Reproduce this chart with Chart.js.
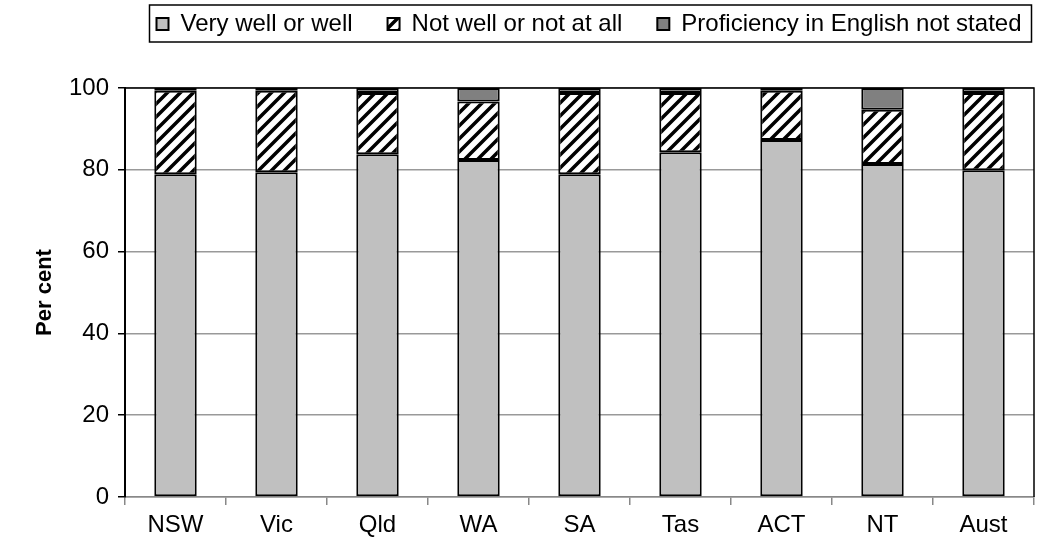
<!DOCTYPE html>
<html>
<head>
<meta charset="utf-8">
<script src="https://cdn.jsdelivr.net/npm/chart.js@4/dist/chart.umd.min.js"></script>
<style>
  html, body { margin: 0; padding: 0; background: #fff; }
  #wrap { width: 1062px; height: 541px; }
</style>
</head>
<body>
<div id="wrap"><canvas id="chart"></canvas></div>
<script>
const states = ['NSW', 'Vic', 'Qld', 'WA', 'SA', 'Tas', 'ACT', 'NT', 'Aust'];
const veryWell = [78.9, 79.4, 83.8, 82.4, 78.9, 84.3, 87.3, 81.4, 79.9];
const notWell = [20.4, 19.9, 15.0, 14.3, 19.9, 14.5, 12.0, 13.3, 18.9];
const notStated = [0.7, 0.7, 1.2, 3.3, 1.2, 1.2, 0.7, 5.3, 1.2];
const yTicks = [0, 20, 40, 60, 80, 100];

// diagonal hatch, black on white
function makeHatch () {
  const s = 13;
  const c = document.createElement('canvas');
  c.width = s; c.height = s;
  const g = c.getContext('2d');
  g.fillStyle = '#fff';
  g.fillRect(0, 0, s, s);
  g.strokeStyle = '#000';
  g.lineWidth = 3.5;
  g.beginPath();
  for (const k of [-s, 0, s]) {
    g.moveTo(k - 2, s + 2);
    g.lineTo(k + s + 2, -2);
  }
  g.stroke();
  return g.createPattern(c, 'repeat');
}

// legend sizing / offset and the frame round it
const legendBox = {
  id: 'legendBox',
  beforeInit (chart) {
    const fit = chart.legend.fit;
    chart.legend.fit = function () {
      fit.bind(chart.legend)();
      this.height = 88;
    };
  },
  afterLayout (chart) {
    const lg = chart.legend;
    lg.top -= 23; lg.bottom -= 23;
    lg.left += 72; lg.right += 72;
  },
  afterDraw (chart) {
    const boxes = chart.legend.legendHitBoxes;
    if (!boxes || !boxes.length) return;
    const ctx = chart.ctx;
    const left = Math.min(...boxes.map(b => b.left)) - 7;
    const right = Math.max(...boxes.map(b => b.left + b.width)) + 10;
    ctx.save();
    ctx.strokeStyle = '#000';
    ctx.lineWidth = 1.5;
    ctx.strokeRect(left, 5, right - left, 37);
    ctx.restore();
  }
};

const plotBorder = {
  id: 'plotBorder',
  afterDatasetsDraw (chart) {
    const a = chart.chartArea;
    const ctx = chart.ctx;
    ctx.save();
    ctx.strokeStyle = '#000';
    ctx.lineWidth = 1.5;
    ctx.beginPath();
    ctx.moveTo(a.left, a.top);
    ctx.lineTo(a.right, a.top);
    ctx.lineTo(a.right, a.bottom);
    ctx.stroke();
    ctx.restore();
  }
};

const hatch = makeHatch();
const family = '"Liberation Sans", Arial, sans-serif';

new Chart(document.getElementById('chart'), {
  type: 'bar',
  data: {
    labels: states,
    datasets: [
      { label: 'Very well or well', data: veryWell, backgroundColor: '#c0c0c0' },
      { label: 'Not well or not at all', data: notWell, backgroundColor: hatch },
      { label: 'Proficiency in English not stated', data: notStated, backgroundColor: '#808080' }
    ]
  },
  options: {
    responsive: true,
    maintainAspectRatio: false,
    animation: false,
    layout: { padding: { top: 0, right: 28, bottom: 0, left: 0 } },
    datasets: {
      bar: {
        borderColor: '#000',
        borderWidth: 2,
        borderSkipped: false,
        barPercentage: 0.42,
        categoryPercentage: 1
      }
    },
    plugins: {
      legend: {
        position: 'top',
        fullSize: true,
        labels: {
          color: '#000',
          font: { family: family, size: 24 },
          boxWidth: 12,
          boxHeight: 12,
          padding: 35
        }
      },
      tooltip: { enabled: false }
    },
    scales: {
      x: {
        stacked: true,
        grid: {
          offset: true,
          drawOnChartArea: false,
          color: '#888',
          lineWidth: 1.5,
          tickLength: 8
        },
        border: { color: '#888', width: 1.5 },
        ticks: { color: '#000', font: { family: family, size: 24 }, padding: 6 },
        afterFit (scale) { scale.height = 44; }
      },
      y: {
        stacked: true,
        min: 0,
        max: 100,
        afterBuildTicks (scale) { scale.ticks = yTicks.map(v => ({ value: v })); },
        grid: { color: '#999', lineWidth: 1.5, tickLength: 7, tickColor: '#000' },
        border: { color: '#000', width: 2 },
        ticks: { color: '#000', font: { family: family, size: 24 }, padding: 9 },
        title: {
          display: true,
          text: 'Per cent',
          color: '#000',
          font: { family: family, size: 22, weight: 'bold' },
          padding: { top: 32, bottom: 0 }
        },
        afterFit (scale) { scale.width = 125; }
      }
    }
  },
  plugins: [legendBox, plotBorder]
});
</script>
</body>
</html>
